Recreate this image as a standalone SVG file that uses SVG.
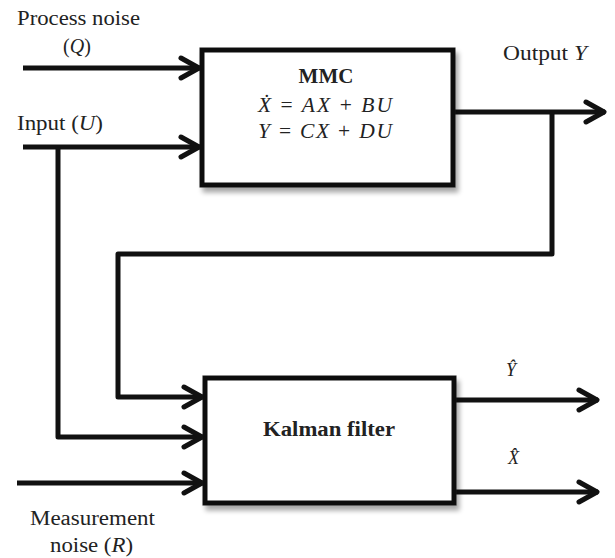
<svg xmlns="http://www.w3.org/2000/svg" width="615" height="558" viewBox="0 0 615 558">
<style>
.ln{fill:none;stroke:#111;stroke-width:5;stroke-linejoin:round;marker-end:url(#chev)}
.box{fill:#fff;stroke:#111;stroke-width:5}
.t{font-family:"Liberation Serif","Times New Roman",serif;font-size:20px;fill:#222}
.b{font-weight:bold}
.i{font-style:italic}
.n{font-style:normal}
</style>
<defs>
<marker id="chev" markerUnits="userSpaceOnUse" viewBox="0 0 26 26" markerWidth="26" markerHeight="26" refX="22" refY="13" orient="auto" overflow="visible">
<path d="M3,3 L21,13 L3,23" fill="none" stroke="#111" stroke-width="5" stroke-linecap="round" stroke-linejoin="round"/>
</marker>
<filter id="sh" x="-10%" y="-10%" width="130%" height="140%">
<feGaussianBlur in="SourceAlpha" stdDeviation="2.5"/>
<feOffset dx="3" dy="5" result="o"/>
<feComponentTransfer><feFuncA type="linear" slope="0.35"/></feComponentTransfer>
<feMerge><feMergeNode/><feMergeNode in="SourceGraphic"/></feMerge>
</filter>
</defs>

<g id="connectors">
<path class="ln" d="M23,68 H200"/>
<path class="ln" d="M23,147 H200"/>
<path class="ln" d="M58,147 V437 H203"/>
<path class="ln" d="M453,112 H605"/>
<path class="ln" d="M552,112 V254 H118 V397 H203"/>
<path class="ln" d="M17,483 H203"/>
<path class="ln" d="M454,400 H598"/>
<path class="ln" d="M454,492 H598"/>
</g>

<g id="mmc">
<rect class="box" x="202" y="50" width="251" height="135" filter="url(#sh)"/>
<text class="t b" x="326" y="83" text-anchor="middle" style="font-size:21px">MMC</text>
<text class="t i" x="258" y="112" style="font-size:21.5px" textLength="134" lengthAdjust="spacing">Ẋ <tspan class="n">=</tspan> AX <tspan class="n">+</tspan> BU</text>
<text class="t i" x="258" y="138" style="font-size:21.5px" textLength="134" lengthAdjust="spacing">Y <tspan class="n">=</tspan> CX <tspan class="n">+</tspan> DU</text>
</g>

<g id="kalman">
<rect class="box" x="205" y="378" width="249" height="125" filter="url(#sh)"/>
<text class="t b" x="263" y="436" textLength="132" lengthAdjust="spacingAndGlyphs">Kalman filter</text>
</g>

<g id="labels">
<text class="t" x="17" y="25" textLength="123" lengthAdjust="spacingAndGlyphs">Process noise</text>
<text class="t" x="77" y="53" text-anchor="middle">(<tspan class="i">Q</tspan>)</text>
<text class="t" x="17" y="130" textLength="86" lengthAdjust="spacingAndGlyphs">Input (<tspan class="i">U</tspan>)</text>
<text class="t" x="503" y="60" textLength="84" lengthAdjust="spacingAndGlyphs">Output <tspan class="i">Y</tspan></text>
<text class="t i" x="506" y="376" style="font-size:18px">Ŷ</text>
<text class="t i" x="508" y="464" style="font-size:18px">X̂</text>
<text class="t" x="30" y="525" textLength="125" lengthAdjust="spacingAndGlyphs">Measurement</text>
<text class="t" x="50" y="552" textLength="83" lengthAdjust="spacingAndGlyphs">noise (<tspan class="i">R</tspan>)</text>
</g>
</svg>
